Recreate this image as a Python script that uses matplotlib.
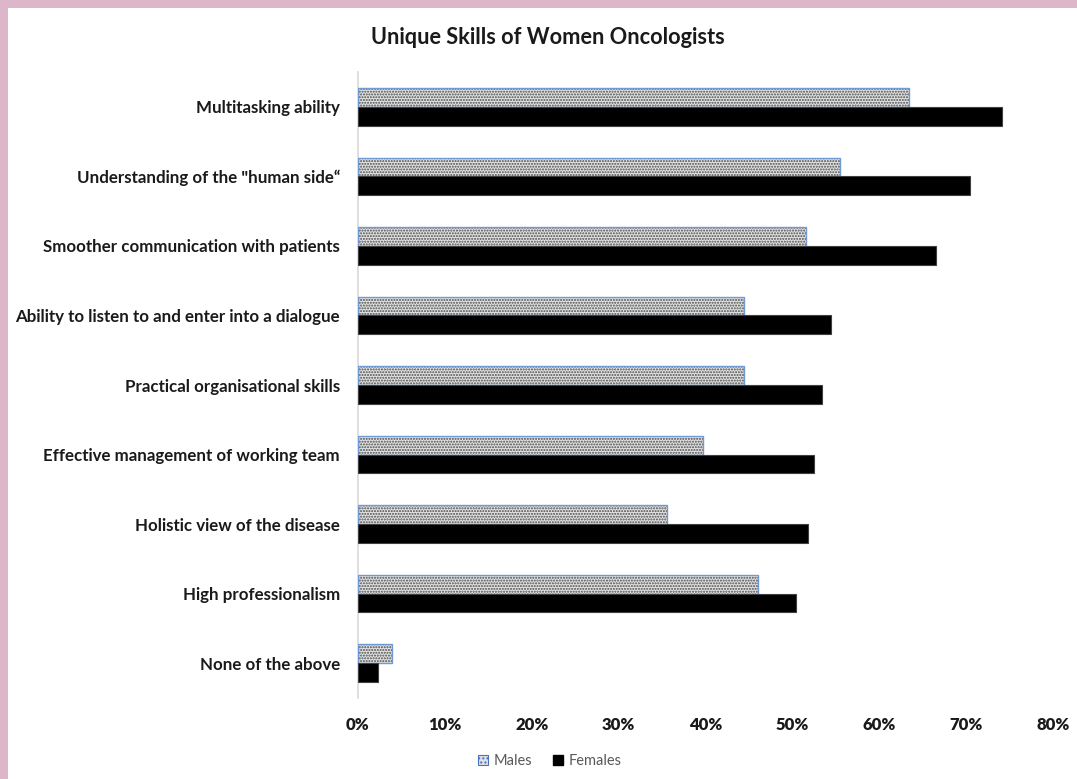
import matplotlib
matplotlib.use("Agg")
import matplotlib.pyplot as plt
from matplotlib.patches import Rectangle, Patch
import numpy as np

categories = [
    "Multitasking ability",
    "Understanding of the \"human side\u201c",
    "Smoother communication with patients",
    "Ability to listen to and enter into a dialogue",
    "Practical organisational skills",
    "Effective management of working team",
    "Holistic view of the disease",
    "High professionalism",
    "None of the above",
]
males = [63.4, 55.5, 51.6, 44.4, 44.4, 39.7, 35.6, 46.0, 3.9]
females = [74.1, 70.5, 66.5, 54.4, 53.4, 52.5, 51.8, 50.4, 2.3]
xticks = [0, 10, 20, 30, 40, 50, 60, 70, 80]

plt.rcParams['font.family'] = ['Lato', 'DejaVu Sans']

fig = plt.figure(figsize=(10.77, 7.79), dpi=100)
# pink border
fig.patches.append(Rectangle((0, 1 - 8/779), 1, 8/779, transform=fig.transFigure,
                             facecolor='#dcb6c9', edgecolor='none', zorder=0))
fig.patches.append(Rectangle((0, 0), 8/1077, 1, transform=fig.transFigure,
                             facecolor='#dcb6c9', edgecolor='none', zorder=0))

ax = fig.add_axes([358/1077, 1 - 698/779, (1053 - 358)/1077, (698 - 72)/779])

n = len(categories)
y = np.arange(n)
h = 0.27
ax.barh(y - h/2, males, height=h, color='#e3e3e3', hatch='......', edgecolor='#4a4a4a',
        linewidth=0, zorder=2)
ax.barh(y - h/2, males, height=h, fill=False, edgecolor='#6f9ad6', linewidth=1.0, zorder=3)
ax.barh(y + h/2, females, height=h, color='black', edgecolor='#404040', linewidth=0.8, zorder=3)

ax.set_ylim(n - 0.5, -0.5)
ax.set_xlim(0, 80)
ax.set_yticks(y)
ax.set_yticklabels(categories, fontsize=12.2, fontweight='bold', color='#1a1a1a')
ax.set_xticks(xticks)
ax.set_xticklabels([f"{t}%" for t in xticks], fontsize=12, fontweight='heavy', color='#1a1a1a')
ax.tick_params(axis='both', length=0)
ax.tick_params(axis='y', pad=13)
ax.tick_params(axis='x', pad=14)
for s in ['top', 'right', 'bottom']:
    ax.spines[s].set_visible(False)
ax.spines['left'].set_color('#d9d9d9')
ax.spines['left'].set_linewidth(1.2)

fig.text(548/1077, 1 - 38/779, "Unique Skills of Women Oncologists", ha='center', va='center',
         fontsize=15.7, fontweight='bold', color='#1a1a1a')

handles = [Patch(facecolor='#e3e3e3', hatch='....', edgecolor='#4472c4', linewidth=0.8, label='Males'),
           Patch(facecolor='black', edgecolor='black', label='Females')]
fig.legend(handles=handles, loc='center', bbox_to_anchor=(550/1077, 1 - 761/779), ncol=2,
           frameon=False, fontsize=10.5, handlelength=0.7, handleheight=0.7, handletextpad=0.4,
           columnspacing=1.4, labelcolor='#595959')

fig.savefig("out.png", dpi=100, facecolor='white')
